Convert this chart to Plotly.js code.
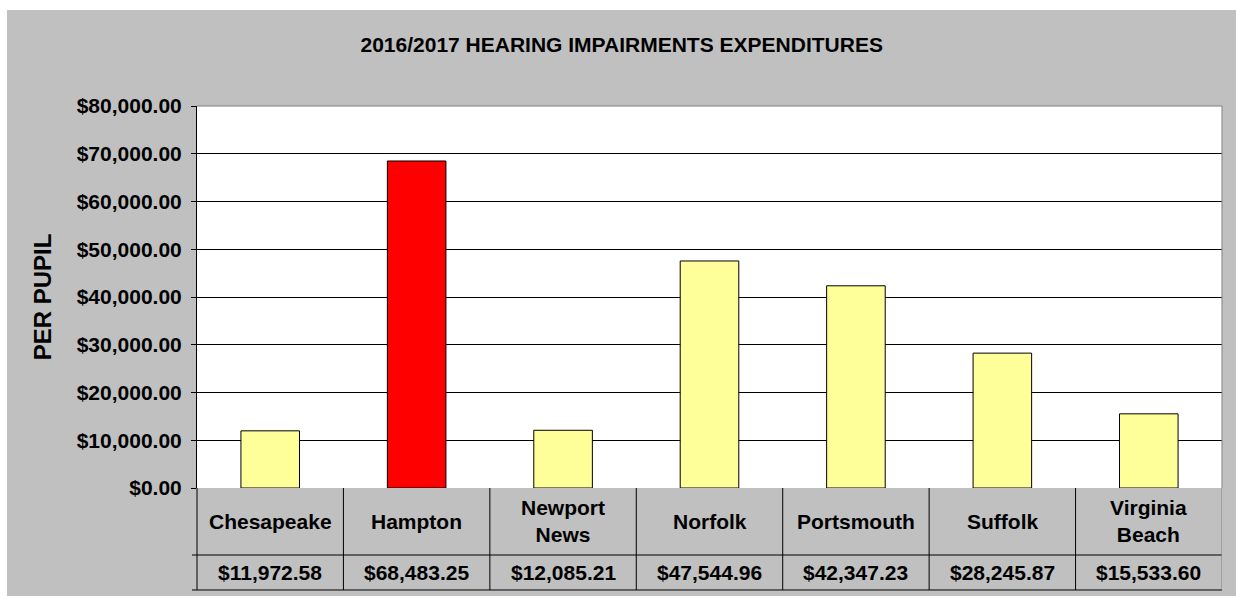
<!DOCTYPE html>
<html>
<head>
<meta charset="utf-8">
<script src="https://cdn.plot.ly/plotly-3.0.1.min.js"></script>
<style>html,body{margin:0;padding:0;background:#fff;}</style>
</head>
<body>
<div id="chart" style="width:1236px;height:597px;"></div>
<script>
var categories = ['Chesapeake', 'Hampton', 'Newport News', 'Norfolk', 'Portsmouth', 'Suffolk', 'Virginia Beach'];
var perPupil = [11972.58, 68483.25, 12085.21, 47544.96, 42347.23, 28245.87, 15533.60];
var highlighted = 'Hampton';

var FONT = 'Liberation Sans, Arial, sans-serif';
var colors = categories.map(function (c) { return c === highlighted ? '#FF0000' : '#FFFF99'; });

function money(v) {
  return '$' + v.toLocaleString('en-US', { minimumFractionDigits: 2, maximumFractionDigits: 2 });
}

var trace = {
  type: 'bar',
  x: categories,
  y: perPupil,
  width: 0.4,
  marker: { color: colors, line: { color: '#000000', width: 1 } },
  hoverinfo: 'x+y'
};

// table row geometry (paper coords)
var rowCatY = -0.0864, rowValY = -0.2225, rowSep = -0.1754, rowBot = -0.267;
var shapes = [];
// gray background panel
shapes.push({ type: 'rect', xref: 'paper', yref: 'paper', x0: -0.1854, x1: 1.02, y0: -0.2827, y1: 1.2513,
  fillcolor: '#C0C0C0', line: { width: 0 }, layer: 'below' });
// white plot area
shapes.push({ type: 'rect', xref: 'paper', yref: 'paper', x0: 0, x1: 1, y0: 0, y1: 1,
  fillcolor: '#FFFFFF', line: { width: 0 }, layer: 'below' });
// plot border top/right
shapes.push({ type: 'line', xref: 'paper', yref: 'paper', x0: 0, x1: 1, y0: 1, y1: 1, line: { color: '#808080', width: 1 } });
shapes.push({ type: 'line', xref: 'paper', yref: 'paper', x0: 1, x1: 1, y0: 0, y1: 1, line: { color: '#808080', width: 1 } });
// table horizontal lines
[rowSep, rowBot].forEach(function (yy) {
  shapes.push({ type: 'line', xref: 'paper', yref: 'paper', x0: -0.0049, x1: 1, y0: yy, y1: yy, line: { color: '#000000', width: 1 } });
});
// table vertical lines
shapes.push({ type: 'line', xref: 'paper', yref: 'paper', x0: 0, x1: 0, y0: rowBot, y1: 0, line: { color: '#000000', width: 1 } });
for (var i = 0; i < categories.length; i++) {
  var xv = i + 0.5;
  shapes.push({ type: 'line', xref: 'x', yref: 'paper', x0: xv, x1: xv, y0: rowBot, y1: 0,
    line: { color: i === categories.length - 1 ? '#808080' : '#000000', width: 1 } });
}

var annotations = [];
categories.forEach(function (c, i) {
  annotations.push({ x: c, xref: 'x', y: rowCatY, yref: 'paper', text: '<b>' + c.replace(' ', '<br>') + '</b>',
    showarrow: false, xanchor: 'center', yanchor: 'middle', font: { family: FONT, size: 21, color: '#000' } });
  annotations.push({ x: c, xref: 'x', y: rowValY, yref: 'paper', text: '<b>' + money(perPupil[i]) + '</b>',
    showarrow: false, xanchor: 'center', yanchor: 'middle', font: { family: FONT, size: 21, color: '#000' } });
});

var layout = {
  width: 1236, height: 597,
  margin: { l: 197, r: 14, t: 106, b: 109 },
  paper_bgcolor: '#FFFFFF',
  plot_bgcolor: '#FFFFFF',
  showlegend: false,
  title: { text: '<b>2016/2017 HEARING IMPAIRMENTS EXPENDITURES</b>', x: 0.503, xanchor: 'center',
    y: 0.926, yanchor: 'middle', yref: 'container', font: { family: FONT, size: 21, color: '#000' } },
  xaxis: { type: 'category', showticklabels: false, showgrid: false, zeroline: false, showline: false,
    range: [-0.5, categories.length - 0.5], fixedrange: true },
  yaxis: { range: [0, 80000], dtick: 10000, tickprefix: '$', tickformat: ',.2f',
    showgrid: true, gridcolor: '#000000', gridwidth: 1, zeroline: false,
    showline: true, linecolor: '#000000', linewidth: 1, ticks: 'outside', ticklen: 5, tickcolor: '#000000',
    ticklabelstandoff: 5,
    tickfont: { family: FONT, size: 21, color: '#000', weight: 'bold' },
    title: { text: '<b>PER PUPIL</b>', font: { family: FONT, size: 24, color: '#000' }, standoff: 18 },
    fixedrange: true },
  shapes: shapes,
  annotations: annotations,
  bargap: 0.6
};

Plotly.newPlot('chart', [trace], layout, { displayModeBar: false, staticPlot: true });
</script>
</body>
</html>
